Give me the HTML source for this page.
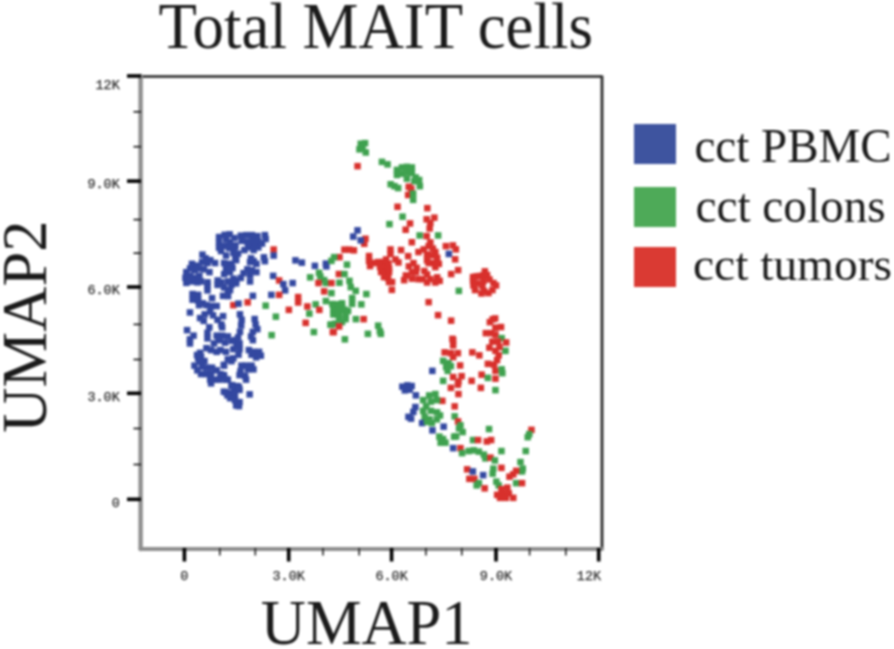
<!DOCTYPE html>
<html><head><meta charset="utf-8"><style>
html,body{margin:0;padding:0;background:#fff;width:894px;height:649px;overflow:hidden;}
#wrap{position:absolute;left:0;top:0;width:894px;height:649px;filter:blur(0.8px);}
svg{position:absolute;left:0;top:0;}
.ht{position:absolute;left:0;top:0;white-space:nowrap;line-height:1;transform-origin:0 0;margin:0;padding:0;}
.tl{font-family:"Liberation Mono",monospace;font-size:13.5px;fill:#2a2a2a;stroke:#2a2a2a;stroke-width:0.25px;}
.serif{font-family:"Liberation Serif",serif;fill:#1a1a1a;color:#1a1a1a;}
</style></head><body>
<div id="wrap">
<svg width="894" height="649" viewBox="0 0 894 649">
<rect x="634" y="124" width="42" height="40" fill="#3e549f"/>
<rect x="634" y="187" width="42" height="40" fill="#4eaa58"/>
<rect x="634" y="247" width="42" height="40" fill="#da3a33"/>
<line x1="141" y1="76.5" x2="602" y2="76.5" stroke="#222" stroke-width="2.4"/>
<line x1="602" y1="75.5" x2="602" y2="548" stroke="#2a2a2a" stroke-width="2.8"/>
<line x1="140.6" y1="76" x2="140.6" y2="549" stroke="#8e8e8e" stroke-width="4.4" stroke-linecap="round"/>
<line x1="140.6" y1="549" x2="602" y2="549" stroke="#8e8e8e" stroke-width="4.2" stroke-linecap="round"/>
<line x1="127" y1="499.3" x2="141" y2="499.3" stroke="#000" stroke-width="3.6"/>
<line x1="127" y1="393.3" x2="141" y2="393.3" stroke="#000" stroke-width="3.6"/>
<line x1="127" y1="287.0" x2="141" y2="287.0" stroke="#000" stroke-width="3.6"/>
<line x1="127" y1="181.1" x2="141" y2="181.1" stroke="#000" stroke-width="3.6"/>
<line x1="127" y1="76.0" x2="141" y2="76.0" stroke="#000" stroke-width="3.6"/>
<line x1="133.5" y1="464.5" x2="141" y2="464.5" stroke="#111" stroke-width="1.6"/>
<line x1="133.5" y1="428.5" x2="141" y2="428.5" stroke="#111" stroke-width="1.6"/>
<line x1="133.5" y1="359.5" x2="141" y2="359.5" stroke="#111" stroke-width="1.6"/>
<line x1="133.5" y1="324.4" x2="141" y2="324.4" stroke="#111" stroke-width="1.6"/>
<line x1="133.5" y1="253.2" x2="141" y2="253.2" stroke="#111" stroke-width="1.6"/>
<line x1="133.5" y1="219.6" x2="141" y2="219.6" stroke="#111" stroke-width="1.6"/>
<line x1="133.5" y1="146.7" x2="141" y2="146.7" stroke="#111" stroke-width="1.6"/>
<line x1="133.5" y1="111.8" x2="141" y2="111.8" stroke="#111" stroke-width="1.6"/>
<line x1="184.4" y1="548" x2="184.4" y2="561.5" stroke="#000" stroke-width="3.6"/>
<line x1="288.7" y1="548" x2="288.7" y2="561.5" stroke="#000" stroke-width="3.6"/>
<line x1="391.6" y1="548" x2="391.6" y2="561.5" stroke="#000" stroke-width="3.6"/>
<line x1="496.0" y1="548" x2="496.0" y2="561.5" stroke="#000" stroke-width="3.6"/>
<line x1="598.7" y1="548" x2="598.7" y2="561.5" stroke="#000" stroke-width="3.6"/>
<line x1="219.8" y1="548" x2="219.8" y2="555.5" stroke="#222" stroke-width="1.6"/>
<line x1="255.3" y1="548" x2="255.3" y2="555.5" stroke="#222" stroke-width="1.6"/>
<line x1="323.0" y1="548" x2="323.0" y2="555.5" stroke="#222" stroke-width="1.6"/>
<line x1="359.2" y1="548" x2="359.2" y2="555.5" stroke="#222" stroke-width="1.6"/>
<line x1="425.9" y1="548" x2="425.9" y2="555.5" stroke="#222" stroke-width="1.6"/>
<line x1="461.8" y1="548" x2="461.8" y2="555.5" stroke="#222" stroke-width="1.6"/>
<line x1="529.6" y1="548" x2="529.6" y2="555.5" stroke="#222" stroke-width="1.6"/>
<line x1="565.8" y1="548" x2="565.8" y2="555.5" stroke="#222" stroke-width="1.6"/>
<text x="119.8" y="506.6" text-anchor="end" class="tl">0</text>
<text x="119.8" y="400.6" text-anchor="end" class="tl">3.0K</text>
<text x="119.8" y="294.3" text-anchor="end" class="tl">6.0K</text>
<text x="119.8" y="188.4" text-anchor="end" class="tl">9.0K</text>
<text x="119.8" y="89.3" text-anchor="end" class="tl">12K</text>
<text x="184.4" y="580" text-anchor="middle" class="tl">0</text>
<text x="288.7" y="580" text-anchor="middle" class="tl">3.0K</text>
<text x="391.6" y="580" text-anchor="middle" class="tl">6.0K</text>
<text x="496.0" y="580" text-anchor="middle" class="tl">9.0K</text>
<text x="589.0" y="580" text-anchor="middle" class="tl">12K</text>
<rect x="357.5" y="140.5" width="6.5" height="6.5" fill="#3fa14f"/>
<rect x="361.8" y="139.9" width="6.5" height="6.5" fill="#3fa14f"/>
<rect x="356.2" y="146.1" width="6.5" height="6.5" fill="#3fa14f"/>
<rect x="362.5" y="149.2" width="6.5" height="6.5" fill="#3fa14f"/>
<rect x="359.3" y="144.2" width="6.5" height="6.5" fill="#3fa14f"/>
<rect x="354.3" y="162.9" width="6.5" height="6.5" fill="#d8302c"/>
<rect x="378.7" y="158.6" width="6.5" height="6.5" fill="#3fa14f"/>
<rect x="384.3" y="161.1" width="6.5" height="6.5" fill="#3fa14f"/>
<rect x="393.7" y="166.7" width="6.5" height="6.5" fill="#3fa14f"/>
<rect x="398.7" y="164.2" width="6.5" height="6.5" fill="#3fa14f"/>
<rect x="403.6" y="163.6" width="6.5" height="6.5" fill="#3fa14f"/>
<rect x="408.6" y="164.2" width="6.5" height="6.5" fill="#3fa14f"/>
<rect x="393.7" y="171.7" width="6.5" height="6.5" fill="#3fa14f"/>
<rect x="398.7" y="170.4" width="6.5" height="6.5" fill="#3fa14f"/>
<rect x="403.6" y="169.2" width="6.5" height="6.5" fill="#3fa14f"/>
<rect x="408.6" y="169.8" width="6.5" height="6.5" fill="#3fa14f"/>
<rect x="412.4" y="174.2" width="6.5" height="6.5" fill="#3fa14f"/>
<rect x="403.6" y="175.4" width="6.5" height="6.5" fill="#3fa14f"/>
<rect x="411.1" y="177.9" width="6.5" height="6.5" fill="#3fa14f"/>
<rect x="387.4" y="181.0" width="6.5" height="6.5" fill="#3fa14f"/>
<rect x="394.9" y="184.8" width="6.5" height="6.5" fill="#3fa14f"/>
<rect x="391.2" y="182.9" width="6.5" height="6.5" fill="#3fa14f"/>
<rect x="405.5" y="183.5" width="6.5" height="6.5" fill="#d8302c"/>
<rect x="404.9" y="191.7" width="6.5" height="6.5" fill="#d8302c"/>
<rect x="408.0" y="185.4" width="6.5" height="6.5" fill="#d8302c"/>
<rect x="394.3" y="203.5" width="6.5" height="6.5" fill="#d8302c"/>
<rect x="409.9" y="190.4" width="6.5" height="6.5" fill="#3fa14f"/>
<rect x="409.9" y="196.6" width="6.5" height="6.5" fill="#3fa14f"/>
<rect x="415.9" y="176.7" width="6.5" height="6.5" fill="#3fa14f"/>
<rect x="416.6" y="182.9" width="6.5" height="6.5" fill="#3fa14f"/>
<rect x="424.1" y="204.9" width="6.5" height="6.5" fill="#d8302c"/>
<rect x="399.3" y="213.4" width="6.5" height="6.5" fill="#3fa14f"/>
<rect x="386.2" y="220.9" width="6.5" height="6.5" fill="#3fa14f"/>
<rect x="406.8" y="220.2" width="6.5" height="6.5" fill="#d8302c"/>
<rect x="402.4" y="226.5" width="6.5" height="6.5" fill="#d8302c"/>
<rect x="408.6" y="239.0" width="6.5" height="6.5" fill="#d8302c"/>
<rect x="362.2" y="235.5" width="6.5" height="6.5" fill="#d8302c"/>
<rect x="361.0" y="240.5" width="6.5" height="6.5" fill="#d8302c"/>
<rect x="354.3" y="227.1" width="6.5" height="6.5" fill="#3348a0"/>
<rect x="350.0" y="233.3" width="6.5" height="6.5" fill="#3348a0"/>
<rect x="357.5" y="237.1" width="6.5" height="6.5" fill="#3348a0"/>
<rect x="341.2" y="246.4" width="6.5" height="6.5" fill="#d8302c"/>
<rect x="346.2" y="246.4" width="6.5" height="6.5" fill="#d8302c"/>
<rect x="350.6" y="247.1" width="6.5" height="6.5" fill="#d8302c"/>
<rect x="336.2" y="253.9" width="6.5" height="6.5" fill="#d8302c"/>
<rect x="335.6" y="270.8" width="6.5" height="6.5" fill="#d8302c"/>
<rect x="343.7" y="261.4" width="6.5" height="6.5" fill="#3fa14f"/>
<rect x="341.2" y="270.8" width="6.5" height="6.5" fill="#3fa14f"/>
<rect x="336.2" y="279.5" width="6.5" height="6.5" fill="#3fa14f"/>
<rect x="346.2" y="277.6" width="6.5" height="6.5" fill="#3fa14f"/>
<rect x="347.5" y="283.9" width="6.5" height="6.5" fill="#3fa14f"/>
<rect x="352.5" y="287.6" width="6.5" height="6.5" fill="#3fa14f"/>
<rect x="363.1" y="290.8" width="6.5" height="6.5" fill="#3fa14f"/>
<rect x="365.8" y="252.8" width="6.5" height="6.5" fill="#d8302c"/>
<rect x="365.8" y="257.8" width="6.5" height="6.5" fill="#d8302c"/>
<rect x="366.8" y="262.8" width="6.5" height="6.5" fill="#d8302c"/>
<rect x="370.8" y="259.8" width="6.5" height="6.5" fill="#d8302c"/>
<rect x="374.8" y="258.8" width="6.5" height="6.5" fill="#d8302c"/>
<rect x="379.8" y="258.8" width="6.5" height="6.5" fill="#d8302c"/>
<rect x="376.8" y="263.8" width="6.5" height="6.5" fill="#d8302c"/>
<rect x="381.8" y="264.8" width="6.5" height="6.5" fill="#d8302c"/>
<rect x="377.8" y="268.8" width="6.5" height="6.5" fill="#d8302c"/>
<rect x="381.8" y="269.8" width="6.5" height="6.5" fill="#d8302c"/>
<rect x="385.8" y="268.8" width="6.5" height="6.5" fill="#d8302c"/>
<rect x="380.8" y="273.8" width="6.5" height="6.5" fill="#d8302c"/>
<rect x="384.8" y="274.8" width="6.5" height="6.5" fill="#d8302c"/>
<rect x="385.8" y="278.8" width="6.5" height="6.5" fill="#d8302c"/>
<rect x="388.8" y="278.8" width="6.5" height="6.5" fill="#d8302c"/>
<rect x="388.6" y="286.6" width="6.5" height="6.5" fill="#d8302c"/>
<rect x="423.4" y="216.1" width="6.5" height="6.5" fill="#d8302c"/>
<rect x="431.1" y="214.4" width="6.5" height="6.5" fill="#d8302c"/>
<rect x="427.1" y="219.8" width="6.5" height="6.5" fill="#d8302c"/>
<rect x="426.4" y="225.2" width="6.5" height="6.5" fill="#d8302c"/>
<rect x="416.4" y="232.2" width="6.5" height="6.5" fill="#3fa14f"/>
<rect x="434.9" y="232.2" width="6.5" height="6.5" fill="#3fa14f"/>
<rect x="423.4" y="232.9" width="6.5" height="6.5" fill="#d8302c"/>
<rect x="427.1" y="239.2" width="6.5" height="6.5" fill="#d8302c"/>
<rect x="442.6" y="242.9" width="6.5" height="6.5" fill="#d8302c"/>
<rect x="449.6" y="242.2" width="6.5" height="6.5" fill="#d8302c"/>
<rect x="452.6" y="246.1" width="6.5" height="6.5" fill="#d8302c"/>
<rect x="445.6" y="250.7" width="6.5" height="6.5" fill="#3348a0"/>
<rect x="451.9" y="256.1" width="6.5" height="6.5" fill="#d8302c"/>
<rect x="454.9" y="266.9" width="6.5" height="6.5" fill="#d8302c"/>
<rect x="447.9" y="270.8" width="6.5" height="6.5" fill="#d8302c"/>
<rect x="455.6" y="287.6" width="6.5" height="6.5" fill="#3fa14f"/>
<rect x="425.4" y="298.9" width="6.5" height="6.5" fill="#d8302c"/>
<rect x="404.9" y="252.9" width="6.5" height="6.5" fill="#d8302c"/>
<rect x="410.2" y="259.9" width="6.5" height="6.5" fill="#d8302c"/>
<rect x="413.4" y="264.6" width="6.5" height="6.5" fill="#d8302c"/>
<rect x="405.6" y="263.1" width="6.5" height="6.5" fill="#d8302c"/>
<rect x="402.6" y="272.2" width="6.5" height="6.5" fill="#d8302c"/>
<rect x="408.8" y="269.1" width="6.5" height="6.5" fill="#d8302c"/>
<rect x="400.9" y="276.9" width="6.5" height="6.5" fill="#d8302c"/>
<rect x="408.8" y="275.4" width="6.5" height="6.5" fill="#d8302c"/>
<rect x="434.8" y="311.9" width="6.5" height="6.5" fill="#d8302c"/>
<rect x="447.9" y="317.4" width="6.5" height="6.5" fill="#d8302c"/>
<rect x="489.4" y="316.1" width="6.5" height="6.5" fill="#d8302c"/>
<rect x="486.6" y="318.9" width="6.5" height="6.5" fill="#d8302c"/>
<rect x="497.8" y="323.8" width="6.5" height="6.5" fill="#d8302c"/>
<rect x="492.2" y="324.4" width="6.5" height="6.5" fill="#d8302c"/>
<rect x="482.6" y="329.9" width="6.5" height="6.5" fill="#d8302c"/>
<rect x="488.1" y="329.9" width="6.5" height="6.5" fill="#d8302c"/>
<rect x="492.2" y="331.4" width="6.5" height="6.5" fill="#d8302c"/>
<rect x="449.2" y="335.6" width="6.5" height="6.5" fill="#d8302c"/>
<rect x="498.4" y="334.9" width="6.5" height="6.5" fill="#3fa14f"/>
<rect x="502.9" y="339.2" width="6.5" height="6.5" fill="#d8302c"/>
<rect x="489.1" y="338.4" width="6.5" height="6.5" fill="#d8302c"/>
<rect x="486.1" y="344.4" width="6.5" height="6.5" fill="#d8302c"/>
<rect x="492.2" y="347.6" width="6.5" height="6.5" fill="#d8302c"/>
<rect x="495.4" y="352.1" width="6.5" height="6.5" fill="#d8302c"/>
<rect x="493.8" y="356.9" width="6.5" height="6.5" fill="#d8302c"/>
<rect x="484.6" y="360.6" width="6.5" height="6.5" fill="#d8302c"/>
<rect x="490.8" y="361.4" width="6.5" height="6.5" fill="#d8302c"/>
<rect x="492.2" y="367.6" width="6.5" height="6.5" fill="#d8302c"/>
<rect x="492.2" y="375.4" width="6.5" height="6.5" fill="#d8302c"/>
<rect x="478.4" y="371.4" width="6.5" height="6.5" fill="#d8302c"/>
<rect x="477.6" y="384.6" width="6.5" height="6.5" fill="#d8302c"/>
<rect x="469.1" y="349.1" width="6.5" height="6.5" fill="#d8302c"/>
<rect x="476.1" y="352.1" width="6.5" height="6.5" fill="#d8302c"/>
<rect x="468.4" y="377.6" width="6.5" height="6.5" fill="#d8302c"/>
<rect x="502.2" y="347.6" width="6.5" height="6.5" fill="#3fa14f"/>
<rect x="498.4" y="366.1" width="6.5" height="6.5" fill="#3fa14f"/>
<rect x="499.1" y="369.9" width="6.5" height="6.5" fill="#3fa14f"/>
<rect x="484.6" y="374.6" width="6.5" height="6.5" fill="#3fa14f"/>
<rect x="492.2" y="386.9" width="6.5" height="6.5" fill="#3fa14f"/>
<rect x="449.9" y="336.8" width="6.5" height="6.5" fill="#d8302c"/>
<rect x="449.9" y="342.1" width="6.5" height="6.5" fill="#d8302c"/>
<rect x="441.4" y="349.1" width="6.5" height="6.5" fill="#d8302c"/>
<rect x="447.6" y="349.9" width="6.5" height="6.5" fill="#d8302c"/>
<rect x="454.6" y="349.9" width="6.5" height="6.5" fill="#d8302c"/>
<rect x="449.9" y="353.8" width="6.5" height="6.5" fill="#d8302c"/>
<rect x="456.9" y="362.2" width="6.5" height="6.5" fill="#d8302c"/>
<rect x="439.9" y="357.6" width="6.5" height="6.5" fill="#3fa14f"/>
<rect x="445.2" y="359.9" width="6.5" height="6.5" fill="#3fa14f"/>
<rect x="442.9" y="363.8" width="6.5" height="6.5" fill="#3fa14f"/>
<rect x="447.6" y="362.9" width="6.5" height="6.5" fill="#3fa14f"/>
<rect x="444.4" y="367.6" width="6.5" height="6.5" fill="#3fa14f"/>
<rect x="429.1" y="367.6" width="6.5" height="6.5" fill="#3348a0"/>
<rect x="439.9" y="377.6" width="6.5" height="6.5" fill="#3fa14f"/>
<rect x="449.9" y="373.8" width="6.5" height="6.5" fill="#d8302c"/>
<rect x="458.4" y="372.9" width="6.5" height="6.5" fill="#d8302c"/>
<rect x="455.2" y="378.4" width="6.5" height="6.5" fill="#d8302c"/>
<rect x="447.6" y="384.6" width="6.5" height="6.5" fill="#d8302c"/>
<rect x="454.6" y="381.4" width="6.5" height="6.5" fill="#d8302c"/>
<rect x="455.2" y="390.8" width="6.5" height="6.5" fill="#d8302c"/>
<rect x="439.1" y="397.6" width="6.5" height="6.5" fill="#d8302c"/>
<rect x="451.4" y="403.1" width="6.5" height="6.5" fill="#d8302c"/>
<rect x="451.4" y="413.1" width="6.5" height="6.5" fill="#3fa14f"/>
<rect x="425.9" y="392.2" width="6.5" height="6.5" fill="#3fa14f"/>
<rect x="432.1" y="390.8" width="6.5" height="6.5" fill="#3fa14f"/>
<rect x="419.9" y="396.9" width="6.5" height="6.5" fill="#3fa14f"/>
<rect x="427.6" y="398.4" width="6.5" height="6.5" fill="#3fa14f"/>
<rect x="433.8" y="396.9" width="6.5" height="6.5" fill="#3fa14f"/>
<rect x="422.9" y="403.1" width="6.5" height="6.5" fill="#3fa14f"/>
<rect x="419.9" y="407.6" width="6.5" height="6.5" fill="#3fa14f"/>
<rect x="427.6" y="407.6" width="6.5" height="6.5" fill="#3fa14f"/>
<rect x="433.8" y="409.1" width="6.5" height="6.5" fill="#3fa14f"/>
<rect x="436.8" y="412.2" width="6.5" height="6.5" fill="#3fa14f"/>
<rect x="421.4" y="413.9" width="6.5" height="6.5" fill="#3fa14f"/>
<rect x="399.1" y="383.4" width="6.5" height="6.5" fill="#3348a0"/>
<rect x="404.1" y="382.1" width="6.5" height="6.5" fill="#3348a0"/>
<rect x="408.4" y="382.8" width="6.5" height="6.5" fill="#3348a0"/>
<rect x="401.6" y="387.1" width="6.5" height="6.5" fill="#3348a0"/>
<rect x="406.4" y="386.4" width="6.5" height="6.5" fill="#3348a0"/>
<rect x="412.6" y="392.1" width="6.5" height="6.5" fill="#3348a0"/>
<rect x="412.1" y="403.8" width="6.5" height="6.5" fill="#3348a0"/>
<rect x="410.1" y="408.6" width="6.5" height="6.5" fill="#3348a0"/>
<rect x="405.2" y="413.6" width="6.5" height="6.5" fill="#3348a0"/>
<rect x="407.8" y="415.4" width="6.5" height="6.5" fill="#3348a0"/>
<rect x="418.9" y="419.8" width="6.5" height="6.5" fill="#3348a0"/>
<rect x="429.2" y="427.1" width="6.5" height="6.5" fill="#3348a0"/>
<rect x="440.4" y="423.4" width="6.5" height="6.5" fill="#3348a0"/>
<rect x="428.6" y="419.8" width="6.5" height="6.5" fill="#3fa14f"/>
<rect x="433.6" y="416.1" width="6.5" height="6.5" fill="#3fa14f"/>
<rect x="426.2" y="416.1" width="6.5" height="6.5" fill="#3fa14f"/>
<rect x="423.8" y="418.6" width="6.5" height="6.5" fill="#3fa14f"/>
<rect x="439.8" y="435.8" width="6.5" height="6.5" fill="#3fa14f"/>
<rect x="436.1" y="433.4" width="6.5" height="6.5" fill="#3fa14f"/>
<rect x="442.2" y="439.4" width="6.5" height="6.5" fill="#3fa14f"/>
<rect x="437.4" y="439.4" width="6.5" height="6.5" fill="#3fa14f"/>
<rect x="450.9" y="433.4" width="6.5" height="6.5" fill="#3fa14f"/>
<rect x="454.8" y="418.2" width="6.5" height="6.5" fill="#d8302c"/>
<rect x="457.2" y="422.1" width="6.5" height="6.5" fill="#3fa14f"/>
<rect x="459.4" y="428.8" width="6.5" height="6.5" fill="#3fa14f"/>
<rect x="452.9" y="433.1" width="6.5" height="6.5" fill="#3fa14f"/>
<rect x="455.8" y="425.2" width="6.5" height="6.5" fill="#3fa14f"/>
<rect x="485.8" y="425.8" width="6.5" height="6.5" fill="#3fa14f"/>
<rect x="469.8" y="436.8" width="6.5" height="6.5" fill="#3fa14f"/>
<rect x="474.8" y="436.8" width="6.5" height="6.5" fill="#d8302c"/>
<rect x="483.6" y="438.2" width="6.5" height="6.5" fill="#d8302c"/>
<rect x="487.9" y="436.8" width="6.5" height="6.5" fill="#d8302c"/>
<rect x="449.9" y="444.9" width="6.5" height="6.5" fill="#3348a0"/>
<rect x="457.2" y="444.9" width="6.5" height="6.5" fill="#d8302c"/>
<rect x="458.8" y="449.9" width="6.5" height="6.5" fill="#3fa14f"/>
<rect x="465.4" y="447.8" width="6.5" height="6.5" fill="#3fa14f"/>
<rect x="470.4" y="447.1" width="6.5" height="6.5" fill="#3fa14f"/>
<rect x="475.6" y="448.4" width="6.5" height="6.5" fill="#3fa14f"/>
<rect x="480.6" y="451.4" width="6.5" height="6.5" fill="#3fa14f"/>
<rect x="482.1" y="455.1" width="6.5" height="6.5" fill="#3fa14f"/>
<rect x="487.2" y="454.4" width="6.5" height="6.5" fill="#d8302c"/>
<rect x="491.6" y="457.2" width="6.5" height="6.5" fill="#3fa14f"/>
<rect x="498.2" y="447.8" width="6.5" height="6.5" fill="#3fa14f"/>
<rect x="522.5" y="447.8" width="6.5" height="6.5" fill="#3fa14f"/>
<rect x="528.2" y="426.6" width="6.5" height="6.5" fill="#d8302c"/>
<rect x="526.0" y="430.9" width="6.5" height="6.5" fill="#3fa14f"/>
<rect x="524.5" y="433.9" width="6.5" height="6.5" fill="#3fa14f"/>
<rect x="517.2" y="458.8" width="6.5" height="6.5" fill="#3fa14f"/>
<rect x="519.5" y="465.4" width="6.5" height="6.5" fill="#3fa14f"/>
<rect x="518.8" y="468.2" width="6.5" height="6.5" fill="#3fa14f"/>
<rect x="498.2" y="464.6" width="6.5" height="6.5" fill="#d8302c"/>
<rect x="490.1" y="465.4" width="6.5" height="6.5" fill="#3fa14f"/>
<rect x="489.4" y="470.4" width="6.5" height="6.5" fill="#3fa14f"/>
<rect x="463.9" y="466.1" width="6.5" height="6.5" fill="#d8302c"/>
<rect x="469.6" y="468.2" width="6.5" height="6.5" fill="#3348a0"/>
<rect x="479.9" y="471.9" width="6.5" height="6.5" fill="#3348a0"/>
<rect x="466.1" y="475.6" width="6.5" height="6.5" fill="#d8302c"/>
<rect x="471.1" y="475.6" width="6.5" height="6.5" fill="#d8302c"/>
<rect x="475.6" y="479.9" width="6.5" height="6.5" fill="#3fa14f"/>
<rect x="473.4" y="482.1" width="6.5" height="6.5" fill="#3fa14f"/>
<rect x="481.4" y="485.1" width="6.5" height="6.5" fill="#d8302c"/>
<rect x="493.1" y="478.4" width="6.5" height="6.5" fill="#3fa14f"/>
<rect x="495.4" y="482.1" width="6.5" height="6.5" fill="#3fa14f"/>
<rect x="510.0" y="471.1" width="6.5" height="6.5" fill="#d8302c"/>
<rect x="506.2" y="473.4" width="6.5" height="6.5" fill="#d8302c"/>
<rect x="512.9" y="467.6" width="6.5" height="6.5" fill="#d8302c"/>
<rect x="512.9" y="479.9" width="6.5" height="6.5" fill="#3fa14f"/>
<rect x="518.8" y="479.9" width="6.5" height="6.5" fill="#d8302c"/>
<rect x="498.2" y="485.9" width="6.5" height="6.5" fill="#d8302c"/>
<rect x="504.1" y="484.4" width="6.5" height="6.5" fill="#d8302c"/>
<rect x="493.9" y="491.6" width="6.5" height="6.5" fill="#d8302c"/>
<rect x="499.8" y="490.9" width="6.5" height="6.5" fill="#d8302c"/>
<rect x="505.6" y="490.2" width="6.5" height="6.5" fill="#d8302c"/>
<rect x="510.0" y="494.6" width="6.5" height="6.5" fill="#d8302c"/>
<rect x="502.6" y="494.6" width="6.5" height="6.5" fill="#d8302c"/>
<rect x="496.8" y="494.6" width="6.5" height="6.5" fill="#d8302c"/>
<rect x="215.8" y="233.8" width="6.5" height="6.5" fill="#3348a0"/>
<rect x="221.4" y="231.6" width="6.5" height="6.5" fill="#3348a0"/>
<rect x="215.8" y="239.3" width="6.5" height="6.5" fill="#3348a0"/>
<rect x="215.8" y="244.4" width="6.5" height="6.5" fill="#3348a0"/>
<rect x="220.9" y="242.7" width="6.5" height="6.5" fill="#3348a0"/>
<rect x="226.6" y="238.9" width="6.5" height="6.5" fill="#3348a0"/>
<rect x="231.2" y="234.8" width="6.5" height="6.5" fill="#3348a0"/>
<rect x="232.1" y="242.2" width="6.5" height="6.5" fill="#3348a0"/>
<rect x="230.2" y="249.6" width="6.5" height="6.5" fill="#3348a0"/>
<rect x="232.1" y="254.1" width="6.5" height="6.5" fill="#3348a0"/>
<rect x="222.8" y="252.3" width="6.5" height="6.5" fill="#3348a0"/>
<rect x="199.2" y="251.4" width="6.5" height="6.5" fill="#3348a0"/>
<rect x="202.4" y="255.1" width="6.5" height="6.5" fill="#3348a0"/>
<rect x="207.1" y="256.9" width="6.5" height="6.5" fill="#3348a0"/>
<rect x="211.8" y="259.8" width="6.5" height="6.5" fill="#3348a0"/>
<rect x="204.3" y="259.8" width="6.5" height="6.5" fill="#3348a0"/>
<rect x="198.8" y="258.8" width="6.5" height="6.5" fill="#3348a0"/>
<rect x="188.7" y="260.6" width="6.5" height="6.5" fill="#3348a0"/>
<rect x="193.2" y="262.4" width="6.5" height="6.5" fill="#3348a0"/>
<rect x="186.8" y="265.2" width="6.5" height="6.5" fill="#3348a0"/>
<rect x="191.3" y="267.1" width="6.5" height="6.5" fill="#3348a0"/>
<rect x="196.1" y="265.2" width="6.5" height="6.5" fill="#3348a0"/>
<rect x="200.7" y="266.1" width="6.5" height="6.5" fill="#3348a0"/>
<rect x="206.2" y="268.9" width="6.5" height="6.5" fill="#3348a0"/>
<rect x="183.1" y="268.9" width="6.5" height="6.5" fill="#3348a0"/>
<rect x="182.2" y="274.6" width="6.5" height="6.5" fill="#3348a0"/>
<rect x="186.8" y="272.6" width="6.5" height="6.5" fill="#3348a0"/>
<rect x="191.3" y="274.6" width="6.5" height="6.5" fill="#3348a0"/>
<rect x="196.1" y="272.6" width="6.5" height="6.5" fill="#3348a0"/>
<rect x="183.1" y="279.6" width="6.5" height="6.5" fill="#3348a0"/>
<rect x="188.7" y="278.2" width="6.5" height="6.5" fill="#3348a0"/>
<rect x="194.2" y="279.1" width="6.5" height="6.5" fill="#3348a0"/>
<rect x="197.8" y="278.2" width="6.5" height="6.5" fill="#3348a0"/>
<rect x="204.3" y="279.1" width="6.5" height="6.5" fill="#3348a0"/>
<rect x="220.9" y="259.8" width="6.5" height="6.5" fill="#3348a0"/>
<rect x="226.6" y="260.6" width="6.5" height="6.5" fill="#3348a0"/>
<rect x="222.8" y="265.2" width="6.5" height="6.5" fill="#3348a0"/>
<rect x="220.9" y="270.9" width="6.5" height="6.5" fill="#3348a0"/>
<rect x="226.6" y="268.9" width="6.5" height="6.5" fill="#3348a0"/>
<rect x="214.4" y="277.2" width="6.5" height="6.5" fill="#3348a0"/>
<rect x="218.2" y="279.1" width="6.5" height="6.5" fill="#3348a0"/>
<rect x="224.7" y="278.2" width="6.5" height="6.5" fill="#3348a0"/>
<rect x="230.2" y="275.4" width="6.5" height="6.5" fill="#3348a0"/>
<rect x="232.9" y="280.1" width="6.5" height="6.5" fill="#3348a0"/>
<rect x="237.6" y="232.4" width="6.5" height="6.5" fill="#3348a0"/>
<rect x="243.1" y="231.9" width="6.5" height="6.5" fill="#3348a0"/>
<rect x="248.7" y="231.9" width="6.5" height="6.5" fill="#3348a0"/>
<rect x="254.1" y="232.9" width="6.5" height="6.5" fill="#3348a0"/>
<rect x="261.6" y="231.9" width="6.5" height="6.5" fill="#3348a0"/>
<rect x="262.4" y="235.7" width="6.5" height="6.5" fill="#3348a0"/>
<rect x="238.4" y="237.6" width="6.5" height="6.5" fill="#3348a0"/>
<rect x="244.1" y="238.4" width="6.5" height="6.5" fill="#3348a0"/>
<rect x="249.6" y="237.6" width="6.5" height="6.5" fill="#3348a0"/>
<rect x="255.1" y="238.4" width="6.5" height="6.5" fill="#3348a0"/>
<rect x="258.8" y="240.3" width="6.5" height="6.5" fill="#3348a0"/>
<rect x="250.4" y="243.1" width="6.5" height="6.5" fill="#3348a0"/>
<rect x="255.1" y="244.1" width="6.5" height="6.5" fill="#3348a0"/>
<rect x="244.9" y="244.1" width="6.5" height="6.5" fill="#3348a0"/>
<rect x="241.2" y="246.8" width="6.5" height="6.5" fill="#3348a0"/>
<rect x="250.4" y="246.8" width="6.5" height="6.5" fill="#3348a0"/>
<rect x="226.4" y="231.1" width="6.5" height="6.5" fill="#3348a0"/>
<rect x="234.8" y="250.4" width="6.5" height="6.5" fill="#3348a0"/>
<rect x="232.9" y="256.9" width="6.5" height="6.5" fill="#3348a0"/>
<rect x="228.2" y="261.6" width="6.5" height="6.5" fill="#3348a0"/>
<rect x="229.2" y="264.8" width="6.5" height="6.5" fill="#3348a0"/>
<rect x="247.8" y="255.1" width="6.5" height="6.5" fill="#3348a0"/>
<rect x="250.4" y="257.9" width="6.5" height="6.5" fill="#3348a0"/>
<rect x="253.2" y="260.6" width="6.5" height="6.5" fill="#3348a0"/>
<rect x="246.8" y="258.8" width="6.5" height="6.5" fill="#3348a0"/>
<rect x="260.6" y="254.1" width="6.5" height="6.5" fill="#3348a0"/>
<rect x="261.6" y="257.9" width="6.5" height="6.5" fill="#3348a0"/>
<rect x="270.4" y="246.3" width="6.5" height="6.5" fill="#d8302c"/>
<rect x="270.4" y="252.3" width="6.5" height="6.5" fill="#3348a0"/>
<rect x="244.1" y="266.1" width="6.5" height="6.5" fill="#3348a0"/>
<rect x="248.7" y="267.1" width="6.5" height="6.5" fill="#3348a0"/>
<rect x="253.2" y="268.9" width="6.5" height="6.5" fill="#3348a0"/>
<rect x="240.3" y="269.9" width="6.5" height="6.5" fill="#3348a0"/>
<rect x="246.8" y="271.8" width="6.5" height="6.5" fill="#3348a0"/>
<rect x="237.6" y="274.6" width="6.5" height="6.5" fill="#3348a0"/>
<rect x="232.9" y="277.2" width="6.5" height="6.5" fill="#3348a0"/>
<rect x="228.2" y="279.1" width="6.5" height="6.5" fill="#3348a0"/>
<rect x="246.8" y="278.2" width="6.5" height="6.5" fill="#3348a0"/>
<rect x="269.9" y="272.6" width="6.5" height="6.5" fill="#3348a0"/>
<rect x="275.9" y="277.2" width="6.5" height="6.5" fill="#d8302c"/>
<rect x="280.1" y="280.9" width="6.5" height="6.5" fill="#3348a0"/>
<rect x="204.2" y="282.4" width="6.5" height="6.5" fill="#3348a0"/>
<rect x="204.2" y="287.1" width="6.5" height="6.5" fill="#3348a0"/>
<rect x="189.3" y="290.8" width="6.5" height="6.5" fill="#3348a0"/>
<rect x="194.9" y="291.6" width="6.5" height="6.5" fill="#3348a0"/>
<rect x="189.3" y="296.4" width="6.5" height="6.5" fill="#3348a0"/>
<rect x="194.9" y="297.2" width="6.5" height="6.5" fill="#3348a0"/>
<rect x="199.6" y="300.1" width="6.5" height="6.5" fill="#3348a0"/>
<rect x="195.8" y="301.9" width="6.5" height="6.5" fill="#3348a0"/>
<rect x="208.8" y="294.9" width="6.5" height="6.5" fill="#3348a0"/>
<rect x="213.4" y="302.8" width="6.5" height="6.5" fill="#3348a0"/>
<rect x="207.8" y="302.8" width="6.5" height="6.5" fill="#3348a0"/>
<rect x="203.2" y="301.9" width="6.5" height="6.5" fill="#3348a0"/>
<rect x="214.3" y="281.6" width="6.5" height="6.5" fill="#3348a0"/>
<rect x="220.8" y="284.2" width="6.5" height="6.5" fill="#3348a0"/>
<rect x="224.6" y="287.9" width="6.5" height="6.5" fill="#3348a0"/>
<rect x="219.8" y="292.6" width="6.5" height="6.5" fill="#3348a0"/>
<rect x="228.2" y="281.6" width="6.5" height="6.5" fill="#3348a0"/>
<rect x="226.8" y="286.8" width="6.5" height="6.5" fill="#3348a0"/>
<rect x="224.8" y="292.8" width="6.5" height="6.5" fill="#3348a0"/>
<rect x="186.7" y="309.2" width="6.5" height="6.5" fill="#3348a0"/>
<rect x="206.9" y="308.4" width="6.5" height="6.5" fill="#3348a0"/>
<rect x="201.4" y="311.1" width="6.5" height="6.5" fill="#3348a0"/>
<rect x="196.8" y="314.8" width="6.5" height="6.5" fill="#3348a0"/>
<rect x="200.4" y="317.6" width="6.5" height="6.5" fill="#3348a0"/>
<rect x="209.8" y="312.1" width="6.5" height="6.5" fill="#3348a0"/>
<rect x="219.8" y="312.9" width="6.5" height="6.5" fill="#3348a0"/>
<rect x="214.3" y="316.6" width="6.5" height="6.5" fill="#3348a0"/>
<rect x="218.1" y="321.2" width="6.5" height="6.5" fill="#3348a0"/>
<rect x="218.9" y="324.1" width="6.5" height="6.5" fill="#3348a0"/>
<rect x="206.1" y="324.1" width="6.5" height="6.5" fill="#3348a0"/>
<rect x="204.2" y="329.6" width="6.5" height="6.5" fill="#3348a0"/>
<rect x="204.2" y="335.1" width="6.5" height="6.5" fill="#3348a0"/>
<rect x="183.8" y="326.9" width="6.5" height="6.5" fill="#3348a0"/>
<rect x="190.3" y="332.4" width="6.5" height="6.5" fill="#3348a0"/>
<rect x="186.7" y="336.1" width="6.5" height="6.5" fill="#3348a0"/>
<rect x="213.4" y="332.4" width="6.5" height="6.5" fill="#3348a0"/>
<rect x="218.9" y="332.4" width="6.5" height="6.5" fill="#3348a0"/>
<rect x="224.6" y="333.2" width="6.5" height="6.5" fill="#3348a0"/>
<rect x="215.2" y="336.9" width="6.5" height="6.5" fill="#3348a0"/>
<rect x="230.1" y="301.9" width="6.5" height="6.5" fill="#d8302c"/>
<rect x="281.9" y="287.1" width="6.5" height="6.5" fill="#3348a0"/>
<rect x="249.6" y="292.6" width="6.5" height="6.5" fill="#3348a0"/>
<rect x="235.2" y="300.4" width="6.5" height="6.5" fill="#3348a0"/>
<rect x="244.4" y="299.1" width="6.5" height="6.5" fill="#d8302c"/>
<rect x="268.1" y="291.6" width="6.5" height="6.5" fill="#3348a0"/>
<rect x="275.9" y="291.6" width="6.5" height="6.5" fill="#d8302c"/>
<rect x="262.4" y="302.4" width="6.5" height="6.5" fill="#3fa14f"/>
<rect x="272.6" y="313.4" width="6.5" height="6.5" fill="#3fa14f"/>
<rect x="268.4" y="331.9" width="6.5" height="6.5" fill="#3fa14f"/>
<rect x="236.7" y="311.1" width="6.5" height="6.5" fill="#3348a0"/>
<rect x="238.4" y="316.6" width="6.5" height="6.5" fill="#3348a0"/>
<rect x="237.9" y="322.1" width="6.5" height="6.5" fill="#3348a0"/>
<rect x="236.7" y="328.6" width="6.5" height="6.5" fill="#3348a0"/>
<rect x="234.8" y="334.2" width="6.5" height="6.5" fill="#3348a0"/>
<rect x="231.9" y="336.9" width="6.5" height="6.5" fill="#3348a0"/>
<rect x="251.4" y="315.8" width="6.5" height="6.5" fill="#3348a0"/>
<rect x="252.3" y="321.2" width="6.5" height="6.5" fill="#3348a0"/>
<rect x="254.1" y="325.9" width="6.5" height="6.5" fill="#3348a0"/>
<rect x="249.6" y="328.6" width="6.5" height="6.5" fill="#3348a0"/>
<rect x="247.8" y="333.2" width="6.5" height="6.5" fill="#3348a0"/>
<rect x="249.6" y="336.9" width="6.5" height="6.5" fill="#3348a0"/>
<rect x="186.7" y="340.2" width="6.5" height="6.5" fill="#3348a0"/>
<rect x="210.7" y="340.2" width="6.5" height="6.5" fill="#3348a0"/>
<rect x="216.2" y="336.6" width="6.5" height="6.5" fill="#3348a0"/>
<rect x="221.8" y="339.4" width="6.5" height="6.5" fill="#3348a0"/>
<rect x="228.2" y="337.6" width="6.5" height="6.5" fill="#3348a0"/>
<rect x="217.2" y="346.8" width="6.5" height="6.5" fill="#3348a0"/>
<rect x="222.7" y="348.6" width="6.5" height="6.5" fill="#3348a0"/>
<rect x="230.1" y="345.9" width="6.5" height="6.5" fill="#3348a0"/>
<rect x="203.2" y="344.9" width="6.5" height="6.5" fill="#3348a0"/>
<rect x="196.8" y="349.6" width="6.5" height="6.5" fill="#3348a0"/>
<rect x="194.9" y="355.1" width="6.5" height="6.5" fill="#3348a0"/>
<rect x="207.8" y="346.8" width="6.5" height="6.5" fill="#3348a0"/>
<rect x="213.4" y="348.6" width="6.5" height="6.5" fill="#3348a0"/>
<rect x="191.2" y="362.4" width="6.5" height="6.5" fill="#3348a0"/>
<rect x="194.1" y="367.1" width="6.5" height="6.5" fill="#3348a0"/>
<rect x="197.8" y="370.8" width="6.5" height="6.5" fill="#3348a0"/>
<rect x="203.2" y="364.4" width="6.5" height="6.5" fill="#3348a0"/>
<rect x="198.7" y="363.4" width="6.5" height="6.5" fill="#3348a0"/>
<rect x="208.8" y="364.4" width="6.5" height="6.5" fill="#3348a0"/>
<rect x="213.4" y="367.1" width="6.5" height="6.5" fill="#3348a0"/>
<rect x="207.8" y="370.8" width="6.5" height="6.5" fill="#3348a0"/>
<rect x="203.2" y="370.8" width="6.5" height="6.5" fill="#3348a0"/>
<rect x="217.2" y="370.8" width="6.5" height="6.5" fill="#3348a0"/>
<rect x="220.8" y="373.6" width="6.5" height="6.5" fill="#3348a0"/>
<rect x="224.6" y="376.4" width="6.5" height="6.5" fill="#3348a0"/>
<rect x="206.9" y="376.4" width="6.5" height="6.5" fill="#3348a0"/>
<rect x="211.6" y="376.4" width="6.5" height="6.5" fill="#3348a0"/>
<rect x="216.2" y="376.4" width="6.5" height="6.5" fill="#3348a0"/>
<rect x="207.8" y="380.1" width="6.5" height="6.5" fill="#3348a0"/>
<rect x="224.6" y="356.1" width="6.5" height="6.5" fill="#3348a0"/>
<rect x="220.8" y="362.4" width="6.5" height="6.5" fill="#3348a0"/>
<rect x="228.2" y="357.9" width="6.5" height="6.5" fill="#3348a0"/>
<rect x="230.1" y="355.1" width="6.5" height="6.5" fill="#3348a0"/>
<rect x="228.2" y="382.9" width="6.5" height="6.5" fill="#3348a0"/>
<rect x="222.7" y="389.2" width="6.5" height="6.5" fill="#3348a0"/>
<rect x="228.2" y="390.2" width="6.5" height="6.5" fill="#3348a0"/>
<rect x="230.9" y="386.6" width="6.5" height="6.5" fill="#3348a0"/>
<rect x="236.3" y="340.2" width="6.5" height="6.5" fill="#3348a0"/>
<rect x="236.3" y="345.9" width="6.5" height="6.5" fill="#3348a0"/>
<rect x="235.3" y="351.4" width="6.5" height="6.5" fill="#3348a0"/>
<rect x="233.2" y="342.6" width="6.5" height="6.5" fill="#3348a0"/>
<rect x="245.6" y="346.8" width="6.5" height="6.5" fill="#3348a0"/>
<rect x="250.2" y="348.6" width="6.5" height="6.5" fill="#3348a0"/>
<rect x="255.8" y="348.6" width="6.5" height="6.5" fill="#3348a0"/>
<rect x="257.6" y="352.4" width="6.5" height="6.5" fill="#3348a0"/>
<rect x="252.9" y="354.1" width="6.5" height="6.5" fill="#3348a0"/>
<rect x="248.3" y="351.4" width="6.5" height="6.5" fill="#3348a0"/>
<rect x="238.2" y="362.4" width="6.5" height="6.5" fill="#3348a0"/>
<rect x="242.8" y="362.4" width="6.5" height="6.5" fill="#3348a0"/>
<rect x="248.3" y="362.4" width="6.5" height="6.5" fill="#3348a0"/>
<rect x="250.2" y="366.1" width="6.5" height="6.5" fill="#3348a0"/>
<rect x="244.7" y="366.1" width="6.5" height="6.5" fill="#3348a0"/>
<rect x="237.2" y="368.1" width="6.5" height="6.5" fill="#3348a0"/>
<rect x="236.3" y="371.8" width="6.5" height="6.5" fill="#3348a0"/>
<rect x="241.8" y="372.6" width="6.5" height="6.5" fill="#3348a0"/>
<rect x="242.8" y="376.4" width="6.5" height="6.5" fill="#3348a0"/>
<rect x="220.6" y="361.6" width="6.5" height="6.5" fill="#3348a0"/>
<rect x="220.6" y="371.8" width="6.5" height="6.5" fill="#3348a0"/>
<rect x="222.4" y="376.4" width="6.5" height="6.5" fill="#3348a0"/>
<rect x="228.9" y="381.9" width="6.5" height="6.5" fill="#3348a0"/>
<rect x="234.4" y="382.9" width="6.5" height="6.5" fill="#3348a0"/>
<rect x="236.3" y="386.6" width="6.5" height="6.5" fill="#3348a0"/>
<rect x="227.1" y="390.2" width="6.5" height="6.5" fill="#3348a0"/>
<rect x="231.7" y="392.1" width="6.5" height="6.5" fill="#3348a0"/>
<rect x="220.6" y="388.4" width="6.5" height="6.5" fill="#3348a0"/>
<rect x="224.2" y="392.1" width="6.5" height="6.5" fill="#3348a0"/>
<rect x="246.4" y="391.1" width="6.5" height="6.5" fill="#3348a0"/>
<rect x="226.9" y="394.9" width="6.5" height="6.5" fill="#3348a0"/>
<rect x="231.7" y="396.9" width="6.5" height="6.5" fill="#3348a0"/>
<rect x="236.3" y="398.9" width="6.5" height="6.5" fill="#3348a0"/>
<rect x="232.9" y="402.2" width="6.5" height="6.5" fill="#3348a0"/>
<rect x="235.7" y="402.9" width="6.5" height="6.5" fill="#3348a0"/>
<rect x="235.7" y="384.1" width="6.5" height="6.5" fill="#3348a0"/>
<rect x="292.2" y="257.1" width="6.5" height="6.5" fill="#3348a0"/>
<rect x="298.6" y="259.4" width="6.5" height="6.5" fill="#3348a0"/>
<rect x="311.6" y="262.6" width="6.5" height="6.5" fill="#3348a0"/>
<rect x="322.6" y="260.4" width="6.5" height="6.5" fill="#3348a0"/>
<rect x="323.1" y="263.1" width="6.5" height="6.5" fill="#3348a0"/>
<rect x="289.4" y="279.8" width="6.5" height="6.5" fill="#3348a0"/>
<rect x="328.2" y="257.6" width="6.5" height="6.5" fill="#3fa14f"/>
<rect x="330.9" y="253.9" width="6.5" height="6.5" fill="#3fa14f"/>
<rect x="315.8" y="269.6" width="6.5" height="6.5" fill="#3fa14f"/>
<rect x="317.1" y="273.2" width="6.5" height="6.5" fill="#3fa14f"/>
<rect x="306.9" y="274.1" width="6.5" height="6.5" fill="#3fa14f"/>
<rect x="320.9" y="276.9" width="6.5" height="6.5" fill="#3fa14f"/>
<rect x="322.6" y="279.8" width="6.5" height="6.5" fill="#3fa14f"/>
<rect x="315.2" y="279.8" width="6.5" height="6.5" fill="#d8302c"/>
<rect x="328.2" y="279.8" width="6.5" height="6.5" fill="#d8302c"/>
<rect x="320.9" y="288.1" width="6.5" height="6.5" fill="#d8302c"/>
<rect x="328.2" y="289.9" width="6.5" height="6.5" fill="#3fa14f"/>
<rect x="294.9" y="293.8" width="6.5" height="6.5" fill="#d8302c"/>
<rect x="294.9" y="299.2" width="6.5" height="6.5" fill="#d8302c"/>
<rect x="285.6" y="306.6" width="6.5" height="6.5" fill="#d8302c"/>
<rect x="304.1" y="303.2" width="6.5" height="6.5" fill="#d8302c"/>
<rect x="312.4" y="301.1" width="6.5" height="6.5" fill="#3fa14f"/>
<rect x="322.6" y="297.8" width="6.5" height="6.5" fill="#3fa14f"/>
<rect x="329.1" y="300.8" width="6.5" height="6.5" fill="#3fa14f"/>
<rect x="316.1" y="306.6" width="6.5" height="6.5" fill="#d8302c"/>
<rect x="302.4" y="319.6" width="6.5" height="6.5" fill="#d8302c"/>
<rect x="329.6" y="328.8" width="6.5" height="6.5" fill="#d8302c"/>
<rect x="306.1" y="310.4" width="6.5" height="6.5" fill="#3fa14f"/>
<rect x="330.1" y="306.6" width="6.5" height="6.5" fill="#3fa14f"/>
<rect x="330.1" y="311.2" width="6.5" height="6.5" fill="#3fa14f"/>
<rect x="310.6" y="328.8" width="6.5" height="6.5" fill="#3fa14f"/>
<rect x="327.2" y="321.4" width="6.5" height="6.5" fill="#3fa14f"/>
<rect x="331.9" y="320.4" width="6.5" height="6.5" fill="#3fa14f"/>
<rect x="348.9" y="294.8" width="6.5" height="6.5" fill="#3fa14f"/>
<rect x="348.9" y="300.6" width="6.5" height="6.5" fill="#3fa14f"/>
<rect x="358.1" y="301.1" width="6.5" height="6.5" fill="#3fa14f"/>
<rect x="338.8" y="300.1" width="6.5" height="6.5" fill="#3fa14f"/>
<rect x="334.2" y="301.1" width="6.5" height="6.5" fill="#3fa14f"/>
<rect x="338.8" y="303.8" width="6.5" height="6.5" fill="#3fa14f"/>
<rect x="335.9" y="306.6" width="6.5" height="6.5" fill="#3fa14f"/>
<rect x="341.6" y="306.6" width="6.5" height="6.5" fill="#3fa14f"/>
<rect x="334.2" y="311.2" width="6.5" height="6.5" fill="#3fa14f"/>
<rect x="335.9" y="311.2" width="6.5" height="6.5" fill="#3fa14f"/>
<rect x="342.4" y="311.2" width="6.5" height="6.5" fill="#3fa14f"/>
<rect x="335.9" y="315.9" width="6.5" height="6.5" fill="#3fa14f"/>
<rect x="342.4" y="315.9" width="6.5" height="6.5" fill="#3fa14f"/>
<rect x="328.6" y="321.4" width="6.5" height="6.5" fill="#3fa14f"/>
<rect x="338.8" y="318.8" width="6.5" height="6.5" fill="#3fa14f"/>
<rect x="344.8" y="307.8" width="6.5" height="6.5" fill="#3fa14f"/>
<rect x="352.6" y="315.9" width="6.5" height="6.5" fill="#3fa14f"/>
<rect x="360.4" y="315.9" width="6.5" height="6.5" fill="#d8302c"/>
<rect x="335.9" y="323.2" width="6.5" height="6.5" fill="#d8302c"/>
<rect x="330.4" y="328.8" width="6.5" height="6.5" fill="#d8302c"/>
<rect x="341.6" y="336.1" width="6.5" height="6.5" fill="#3fa14f"/>
<rect x="364.6" y="330.6" width="6.5" height="6.5" fill="#3fa14f"/>
<rect x="374.9" y="322.4" width="6.5" height="6.5" fill="#3fa14f"/>
<rect x="376.6" y="327.9" width="6.5" height="6.5" fill="#3fa14f"/>
<rect x="377.6" y="330.6" width="6.5" height="6.5" fill="#3fa14f"/>
<rect x="412.8" y="268.8" width="6.5" height="6.5" fill="#d8302c"/>
<rect x="481.6" y="268.1" width="6.5" height="6.5" fill="#d8302c"/>
<rect x="469.8" y="273.8" width="6.5" height="6.5" fill="#d8302c"/>
<rect x="472.8" y="273.2" width="6.5" height="6.5" fill="#d8302c"/>
<rect x="469.8" y="277.8" width="6.5" height="6.5" fill="#d8302c"/>
<rect x="470.2" y="282.2" width="6.5" height="6.5" fill="#d8302c"/>
<rect x="471.8" y="286.8" width="6.5" height="6.5" fill="#d8302c"/>
<rect x="474.2" y="280.2" width="6.5" height="6.5" fill="#d8302c"/>
<rect x="476.2" y="272.8" width="6.5" height="6.5" fill="#d8302c"/>
<rect x="479.8" y="272.2" width="6.5" height="6.5" fill="#d8302c"/>
<rect x="483.8" y="271.8" width="6.5" height="6.5" fill="#d8302c"/>
<rect x="480.2" y="277.8" width="6.5" height="6.5" fill="#d8302c"/>
<rect x="486.2" y="276.2" width="6.5" height="6.5" fill="#d8302c"/>
<rect x="479.2" y="282.8" width="6.5" height="6.5" fill="#d8302c"/>
<rect x="480.8" y="287.8" width="6.5" height="6.5" fill="#d8302c"/>
<rect x="478.2" y="290.2" width="6.5" height="6.5" fill="#d8302c"/>
<rect x="485.2" y="289.8" width="6.5" height="6.5" fill="#d8302c"/>
<rect x="489.2" y="286.8" width="6.5" height="6.5" fill="#d8302c"/>
<rect x="490.2" y="279.8" width="6.5" height="6.5" fill="#d8302c"/>
<rect x="492.8" y="282.2" width="6.5" height="6.5" fill="#d8302c"/>
<rect x="387.2" y="246.2" width="6.5" height="6.5" fill="#d8302c"/>
<rect x="387.2" y="250.8" width="6.5" height="6.5" fill="#d8302c"/>
<rect x="397.8" y="246.8" width="6.5" height="6.5" fill="#d8302c"/>
<rect x="392.2" y="256.2" width="6.5" height="6.5" fill="#d8302c"/>
<rect x="395.2" y="259.2" width="6.5" height="6.5" fill="#d8302c"/>
<rect x="385.2" y="260.2" width="6.5" height="6.5" fill="#d8302c"/>
<rect x="385.8" y="265.2" width="6.5" height="6.5" fill="#d8302c"/>
<rect x="382.8" y="256.2" width="6.5" height="6.5" fill="#d8302c"/>
<rect x="415.2" y="248.8" width="6.5" height="6.5" fill="#d8302c"/>
<rect x="420.4" y="246.2" width="6.5" height="6.5" fill="#d8302c"/>
<rect x="425.4" y="242.8" width="6.5" height="6.5" fill="#d8302c"/>
<rect x="429.6" y="245.3" width="6.5" height="6.5" fill="#d8302c"/>
<rect x="432.1" y="248.8" width="6.5" height="6.5" fill="#d8302c"/>
<rect x="423.8" y="251.2" width="6.5" height="6.5" fill="#d8302c"/>
<rect x="428.8" y="252.1" width="6.5" height="6.5" fill="#d8302c"/>
<rect x="433.9" y="254.6" width="6.5" height="6.5" fill="#d8302c"/>
<rect x="423.8" y="257.1" width="6.5" height="6.5" fill="#d8302c"/>
<rect x="429.6" y="259.8" width="6.5" height="6.5" fill="#d8302c"/>
<rect x="435.6" y="260.6" width="6.5" height="6.5" fill="#d8302c"/>
<rect x="432.1" y="263.9" width="6.5" height="6.5" fill="#d8302c"/>
<rect x="425.4" y="259.8" width="6.5" height="6.5" fill="#d8302c"/>
<rect x="421.1" y="267.8" width="6.5" height="6.5" fill="#d8302c"/>
<rect x="423.8" y="271.2" width="6.5" height="6.5" fill="#d8302c"/>
<rect x="419.4" y="275.9" width="6.5" height="6.5" fill="#d8302c"/>
<rect x="423.8" y="279.2" width="6.5" height="6.5" fill="#d8302c"/>
<rect x="427.1" y="275.9" width="6.5" height="6.5" fill="#d8302c"/>
<rect x="433.9" y="274.1" width="6.5" height="6.5" fill="#d8302c"/>
<rect x="436.4" y="277.6" width="6.5" height="6.5" fill="#d8302c"/>
<rect x="432.1" y="279.2" width="6.5" height="6.5" fill="#d8302c"/>
<rect x="415.2" y="275.9" width="6.5" height="6.5" fill="#d8302c"/>
<rect x="197.8" y="353.2" width="6.5" height="6.5" fill="#3348a0"/>
<rect x="201.2" y="357.8" width="6.5" height="6.5" fill="#3348a0"/>
<rect x="196.2" y="358.2" width="6.5" height="6.5" fill="#3348a0"/>
<rect x="193.8" y="351.8" width="6.5" height="6.5" fill="#3348a0"/>
<rect x="496.2" y="343.8" width="6.5" height="6.5" fill="#d8302c"/>
<rect x="494.8" y="338.2" width="6.5" height="6.5" fill="#d8302c"/>
<rect x="491.9" y="315.2" width="6.5" height="6.5" fill="#d8302c"/>
<rect x="222.8" y="236.2" width="6.5" height="6.5" fill="#3348a0"/>
<rect x="231.8" y="243.8" width="6.5" height="6.5" fill="#3348a0"/>
<rect x="225.8" y="244.8" width="6.5" height="6.5" fill="#3348a0"/>
<rect x="217.8" y="247.8" width="6.5" height="6.5" fill="#3348a0"/>
</svg>
<div class="ht serif" style="font-size:67px;transform:translate(158.6px,48.2px) scale(0.938,0.968) translate(0,-56.113px)">Total MAIT cells</div>
<div class="ht serif" style="font-size:63.5px;transform:translate(260.8px,644.4px) scale(0.983,1.005) translate(0,-53.181px)">UMAP1</div>
<div class="ht serif" style="font-size:63.5px;transform:translate(45.8px,432.7px) rotate(-90deg) scale(0.986,1.012) translate(0,-53.181px)">UMAP2</div>
<div class="ht serif" style="font-size:47px;transform:translate(694.5px,162.2px) scale(1.0,1.03) translate(0,-39.363px)">cct PBMC</div>
<div class="ht serif" style="font-size:47px;transform:translate(695.5px,222.4px) scale(1.005,1.015) translate(0,-39.363px)">cct colons</div>
<div class="ht serif" style="font-size:47px;transform:translate(693px,280.4px) scale(1.01,1.01) translate(0,-39.363px)">cct tumors</div>
</div>
</body></html>
